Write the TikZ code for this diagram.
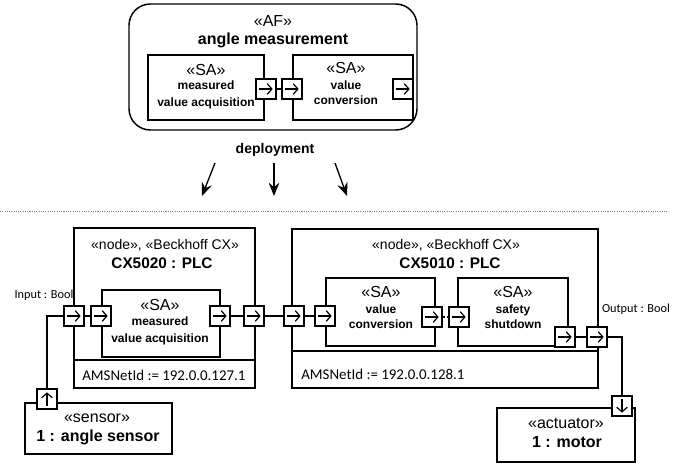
\documentclass[tikz,border=0pt]{standalone}
\usepackage{fontspec}
\setmainfont{Liberation Sans}
\newfontfamily\calibfont{Carlito}
\usetikzlibrary{arrows.meta}
\usetikzlibrary{fit}
\usetikzlibrary{calc}

\tikzset{
  box/.style={draw, line width=1.1pt, inner sep=0pt},
  wire/.style={line width=1pt},
  portbox/.style={draw, fill=white, line width=1pt, minimum size=15pt, inner sep=0pt},
  barb/.style={line width=0.9pt, -{Straight Barb[length=3.5pt,width=8pt]}},
  portr/.style={portbox, path picture={\draw[barb] ([xshift=2pt]path picture bounding box.west) -- ([xshift=-2.5pt]path picture bounding box.east);}},
  portu/.style={portbox, path picture={\draw[barb] ([yshift=2pt]path picture bounding box.south) -- ([yshift=-2.5pt]path picture bounding box.north);}},
  portd/.style={portbox, path picture={\draw[barb] ([yshift=-2pt]path picture bounding box.north) -- ([yshift=2.5pt]path picture bounding box.south);}},
  ster/.style={font=\fontsize{12}{14}\selectfont, inner sep=0pt},
  bigname/.style={font=\bfseries\fontsize{12}{14}\selectfont, inner sep=0pt},
  saname/.style={font=\bfseries\fontsize{9}{12.75}\selectfont, align=center, inner sep=0pt},
  sanamet/.style={font=\bfseries\fontsize{9}{11}\selectfont, align=center, inner sep=0pt},
  nodester/.style={font=\fontsize{10.5}{12}\selectfont, inner sep=0pt},
  plcname/.style={font=\bfseries\fontsize{11.5}{13}\selectfont, inner sep=0pt},
  props/.style={font=\calibfont\fontsize{11.2}{13}\selectfont, inner sep=0pt, anchor=west},
  portlabel/.style={font=\calibfont\fontsize{9.2}{11}\selectfont, inner sep=0pt},
  depl/.style={font=\bfseries\fontsize{10.5}{12}\selectfont, inner sep=0pt},
  deparrow/.style={line width=1pt, -{Stealth[length=10pt,width=8pt,inset=3.5pt]}}
}

\begin{document}
\begin{tikzpicture}[x=0.75pt,y=-0.75pt]
                    \useasboundingbox (0,0) rectangle (683,463);

                    \node[box, rounded corners=16pt, fit={(129,4) (417,130)}] (af) {};
                    \node[ster] (aft) at (273,21) {«AF»};
                    \node[bigname] (afn) at (273,40) {angle measurement};

                    \node[box, fit={(148,55) (264,120)}] (sa1) {};
                    \node[ster] (sa1t) at (206,70) {«SA»};
                    \node[saname] (sa1n) at (206,94.5) {measured\\value acquisition};
                    \node[box, fit={(293,55) (413,120)}] (sa2) {};
                    \node[ster] (sa2t) at (346,68) {«SA»};
                    \node[sanamet] (sa2n) at (346,92.5) {value\\conversion};

                    \node[portr] (sa1o) at (266,89) {};
                    \node[portr] (sa2i) at (292,89) {};
                    \node[portr] (sa2o) at (403,89) {};
                    \draw[wire] (sa1o) -- (sa2i);

                    \node[depl] (dep) at (275,150) {deployment};
                    \coordinate (d1s) at (215,163);
                    \coordinate (d1e) at (202,196);
                    \coordinate (d2s) at (274,163);
                    \coordinate (d2e) at (274,196);
                    \coordinate (d3s) at (335,163);
                    \coordinate (d3e) at (347,196);
                    \draw[deparrow] (d1s) -- (d1e);
                    \draw[deparrow] (d2s) -- (d2e);
                    \draw[deparrow] (d3s) -- (d3e);
                    \draw[gray, line width=0.6pt, dash pattern=on 0.8pt off 0.9pt] (0,211) -- (668,211);

                    \node[box, fit={(74,228) (255,388)}] (cx1) {};
                    \draw[box] (74,360) -- (255,360);
                    \node[nodester] (cx1t) at (165,245) {«node», «Beckhoff CX»};
                    \node[plcname] (cx1n) at (162,263) {CX5020 : PLC};
                    \node[props] (cx1p) at (82,375) {AMSNetId := 192.0.0.127.1};
                    \node[box, fit={(102,290) (220,357)}] (sa3) {};
                    \node[ster] (sa3t) at (160,305) {«SA»};
                    \node[saname] (sa3n) at (160,330.5) {measured\\value acquisition};

                    \node[box, fit={(292,229) (598,388)}] (cx2) {};
                    \draw[box] (292,351) -- (598,351);
                    \node[nodester] (cx2t) at (446,245) {«node», «Beckhoff CX»};
                    \node[plcname] (cx2n) at (450,263) {CX5010 : PLC};
                    \node[props] (cx2p) at (301,374) {AMSNetId := 192.0.0.128.1};
                    \node[box, fit={(326,278) (435,346)}] (vc) {};
                    \node[ster] (vct) at (381,292) {«SA»};
                    \node[sanamet] (vcn) at (381,317) {value\\conversion};
                    \node[box, fit={(458,278) (568,346)}] (ss) {};
                    \node[ster] (sst) at (513,292) {«SA»};
                    \node[sanamet] (ssn) at (513,317) {safety\\shutdown};

                    \node[portr] (in1) at (74,316) {};
                    \node[portr] (sa3i) at (101,316) {};
                    \node[portr] (sa3o) at (220,316) {};
                    \node[portr] (out1) at (254,316) {};
                    \node[portr] (in2) at (294,316) {};
                    \node[portr] (vci) at (325,316) {};
                    \node[portr] (vco) at (432,317) {};
                    \node[portr] (ssi) at (459,317) {};
                    \node[portr] (sso) at (565,337) {};
                    \node[portr] (out2) at (597,337) {};
                    \node[portlabel] (inl) at (44,295) {Input : Bool};
                    \node[portlabel] (outl) at (636,309) {Output : Bool};

                    \draw[wire] (in1) -- (sa3i);
                    \draw[wire] (sa3o) -- (out1);
                    \draw[wire] (out1) -- (in2);
                    \draw[wire] (in2) -- (vci);
                    \draw[wire, dash pattern=on 2pt off 1.5pt] (vco) -- (ssi);
                    \draw[wire] (sso) -- (out2);

                    \node[box, fit={(25,403) (172,454)}] (sens) {};
                    \node[ster] (senst) at (97,418) {«sensor»};
                    \node[bigname] (sensn) at (98,437) {1 : angle sensor};
                    \node[portu] (ps) at (47,399) {};

                    \node[box, fit={(497,408) (635,462)}] (act) {};
                    \node[ster] (actt) at (566,423) {«actuator»};
                    \node[bigname] (actn) at (567,442) {1 : motor};
                    \node[portd] (pa) at (622,406) {};

                    \draw[wire] (ps.north) |- (in1.west);
                    \draw[wire] (out2.east) -| (pa.north);
                \end{tikzpicture}
\end{document}
